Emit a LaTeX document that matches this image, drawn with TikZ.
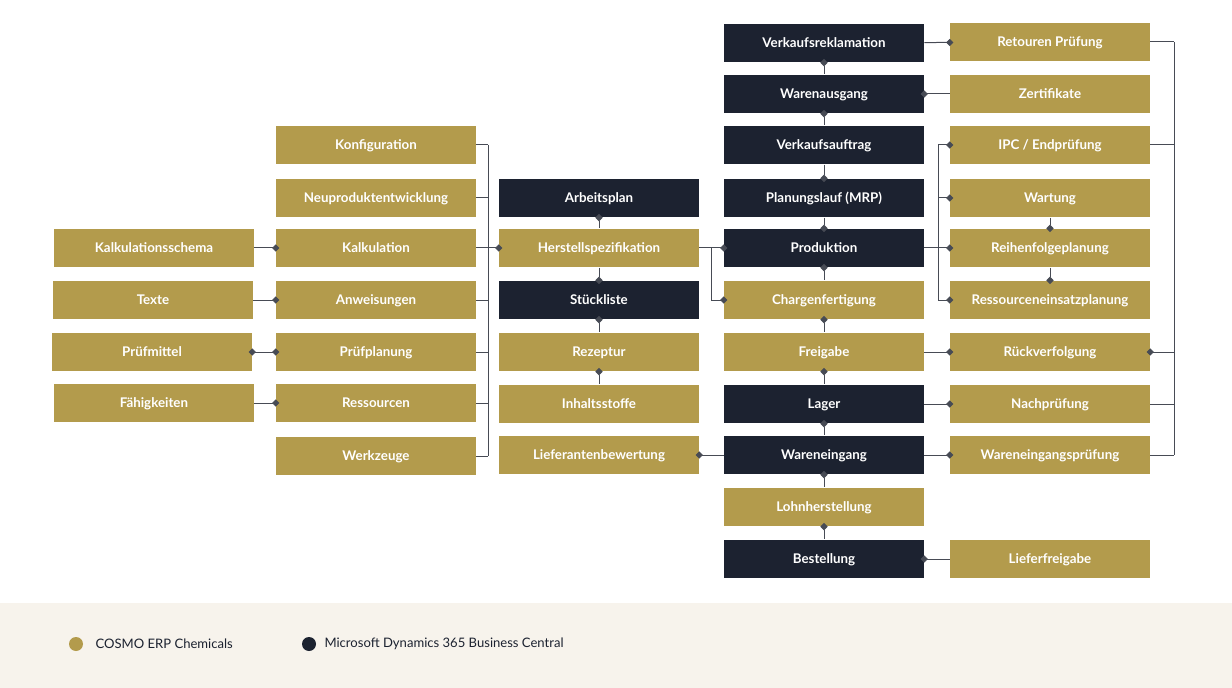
\documentclass[tikz,border=0pt]{standalone}
\usepackage{fontspec}
\setmainfont{Lato}
\usetikzlibrary{arrows.meta, positioning}
\definecolor{cosmo}{HTML}{B39B4C}
\definecolor{msbc}{HTML}{1C2230}
\definecolor{wirec}{HTML}{474B55}
\definecolor{band}{HTML}{F7F3EC}

\begin{document}
\begin{tikzpicture}[x=0.75pt, y=-0.75pt,
  cosmobox/.style={rectangle, fill=cosmo, text=white, minimum width=150pt, minimum height=29pt,
    inner sep=0pt, text centered, text height=7.2pt, text depth=0pt,
    font=\fontsize{10pt}{12pt}\selectfont\bfseries},
  bcbox/.style={cosmobox, fill=msbc},
  wire/.style={draw=wirec, line width=0.75pt},
  todia/.style={wire, -{Diamond[length=5.5pt,width=5.5pt]}, shorten >=-2.75pt},
  fromdia/.style={wire, {Diamond[length=5.5pt,width=5.5pt]}-, shorten <=-2.75pt},
  bothdia/.style={wire, {Diamond[length=5.5pt,width=5.5pt]}-{Diamond[length=5.5pt,width=5.5pt]},
    shorten <=-2.75pt, shorten >=-2.75pt},
  legend/.style={font=\fontsize{9.8pt}{12pt}\selectfont, text=msbc, inner sep=0pt}
]
\useasboundingbox (0,0) rectangle (1232,688);

% Spalte 1
\node (kschema) [cosmobox] at (154,248) {Kalkulationsschema};
\node (texte) [cosmobox] at (153,300) {Texte};
\node (pmittel) [cosmobox] at (152,352) {Prüfmittel};
\node (faehig) [cosmobox] at (154,403) {Fähigkeiten};

% Spalte 2
\node (konf) [cosmobox] at (376,145) {Konfiguration};
\node (neu) [cosmobox] at (376,198) {Neuproduktentwicklung};
\node (kalk) [cosmobox] at (376,248) {Kalkulation};
\node (anw) [cosmobox] at (376,300) {Anweisungen};
\node (pplan) [cosmobox] at (376,352) {Prüfplanung};
\node (ress) [cosmobox] at (376,403) {Ressourcen};
\node (werk) [cosmobox] at (376,456) {Werkzeuge};

% Spalte 3
\node (aplan) [bcbox] at (599,198) {Arbeitsplan};
\node (herst) [cosmobox] at (599,248) {Herstellspezifikation};
\node (stueck) [bcbox] at (599,300) {Stückliste};
\node (rez) [cosmobox] at (599,352) {Rezeptur};
\node (inhalt) [cosmobox] at (599,404) {Inhaltsstoffe};
\node (lbew) [cosmobox] at (599,455) {Lieferantenbewertung};

% Spalte 4
\node (vkr) [bcbox] at (824,43) {Verkaufsreklamation};
\node (wa) [bcbox] at (824,94) {Warenausgang};
\node (vauf) [bcbox] at (824,145) {Verkaufsauftrag};
\node (mrp) [bcbox] at (824,198) {Planungslauf (MRP)};
\node (prod) [bcbox] at (824,248) {Produktion};
\node (charge) [cosmobox] at (824,300) {Chargenfertigung};
\node (frei) [cosmobox] at (824,352) {Freigabe};
\node (lager) [bcbox] at (824,404) {Lager};
\node (wein) [bcbox] at (824,455) {Wareneingang};
\node (lohn) [cosmobox] at (824,507) {Lohnherstellung};
\node (best) [bcbox] at (824,559) {Bestellung};

% Spalte 5
\node (retour) [cosmobox] at (1050,42) {Retouren Prüfung};
\node (zert) [cosmobox] at (1050,94) {Zertifikate};
\node (ipc) [cosmobox] at (1050,145) {IPC / Endprüfung};
\node (wart) [cosmobox] at (1050,198) {Wartung};
\node (reihe) [cosmobox] at (1050,248) {Reihenfolgeplanung};
\node (reinsatz) [cosmobox] at (1050,300) {Ressourceneinsatzplanung};
\node (rueck) [cosmobox] at (1050,352) {Rückverfolgung};
\node (nach) [cosmobox] at (1050,404) {Nachprüfung};
\node (wep) [cosmobox] at (1050,455) {Wareneingangsprüfung};
\node (liefer) [cosmobox] at (1050,559) {Lieferfreigabe};

% Hilfspunkte
\coordinate (busL) at (488,0);
\coordinate (forkH) at (711,0);
\coordinate (forkP) at (938,0);
\coordinate (busR) at (1174,0);

% Verbindungen links
\draw [todia] (kschema) -- (kalk);
\draw [todia] (texte) -- (anw);
\draw [bothdia] (pmittel) -- (pplan);
\draw [todia] (faehig) -- (ress);
\foreach \n in {konf, neu, kalk, anw, pplan, ress, werk}
  \draw [wire] (\n.east) -- (\n.east -| busL);
\draw [wire] (konf.east -| busL) -- (werk.east -| busL);
\draw [todia] (kalk) -- (herst);

% Verbindungen Mitte
\draw [fromdia] (aplan) -- (herst);
\draw [todia] (herst) -- (stueck);
\draw [fromdia] (stueck) -- (rez);
\draw [fromdia] (rez) -- (inhalt);
\draw [fromdia] (lbew) -- (wein);
\draw [todia] (herst) -- (prod);
\draw [todia] (herst.east -| forkH) |- (charge.west);

% Verbindungen Spalte 4
\draw [fromdia] (vkr) -- (wa);
\draw [fromdia] (wa) -- (vauf);
\draw [todia] (vauf) -- (mrp);
\draw [todia] (mrp) -- (prod);
\draw [fromdia] (prod) -- (charge);
\draw [fromdia] (charge) -- (frei);
\draw [fromdia] (frei) -- (lager);
\draw [fromdia] (lager) -- (wein);
\draw [fromdia] (wein) -- (lohn);
\draw [fromdia] (lohn) -- (best);

% Verbindungen rechts
\draw [todia] (vkr) -- (retour);
\draw [fromdia] (wa) -- (zert);
\draw [todia] (prod) -- (reihe);
\foreach \n in {ipc, wart, reinsatz}
  \draw [todia] (prod.east -| forkP) |- (\n.west);
\draw [todia] (wart) -- (reihe);
\draw [todia] (reihe) -- (reinsatz);
\draw [todia] (frei) -- (rueck);
\draw [todia] (lager) -- (nach);
\draw [todia] (wein) -- (wep);
\draw [fromdia] (best) -- (liefer);
\foreach \n in {retour, ipc, nach, wep}
  \draw [wire] (\n.east) -- (\n.east -| busR);
\draw [todia] (rueck.east -| busR) -- (rueck.east);
\draw [wire] (retour.east -| busR) -- (wep.east -| busR);

% Legende
\fill [band] (0,603) rectangle (1232,688);
\node (kcosmo) [circle, fill=cosmo, minimum size=10.5pt, inner sep=0pt] at (76,644) {};
\node (lcosmo) [legend, right=9pt of kcosmo] {COSMO ERP Chemicals};
\node (kmsbc) [circle, fill=msbc, minimum size=10.5pt, inner sep=0pt] at (309,644) {};
\node (lmsbc) [legend, right=6pt of kmsbc] {Microsoft Dynamics 365 Business Central};

\end{tikzpicture}
\end{document}
